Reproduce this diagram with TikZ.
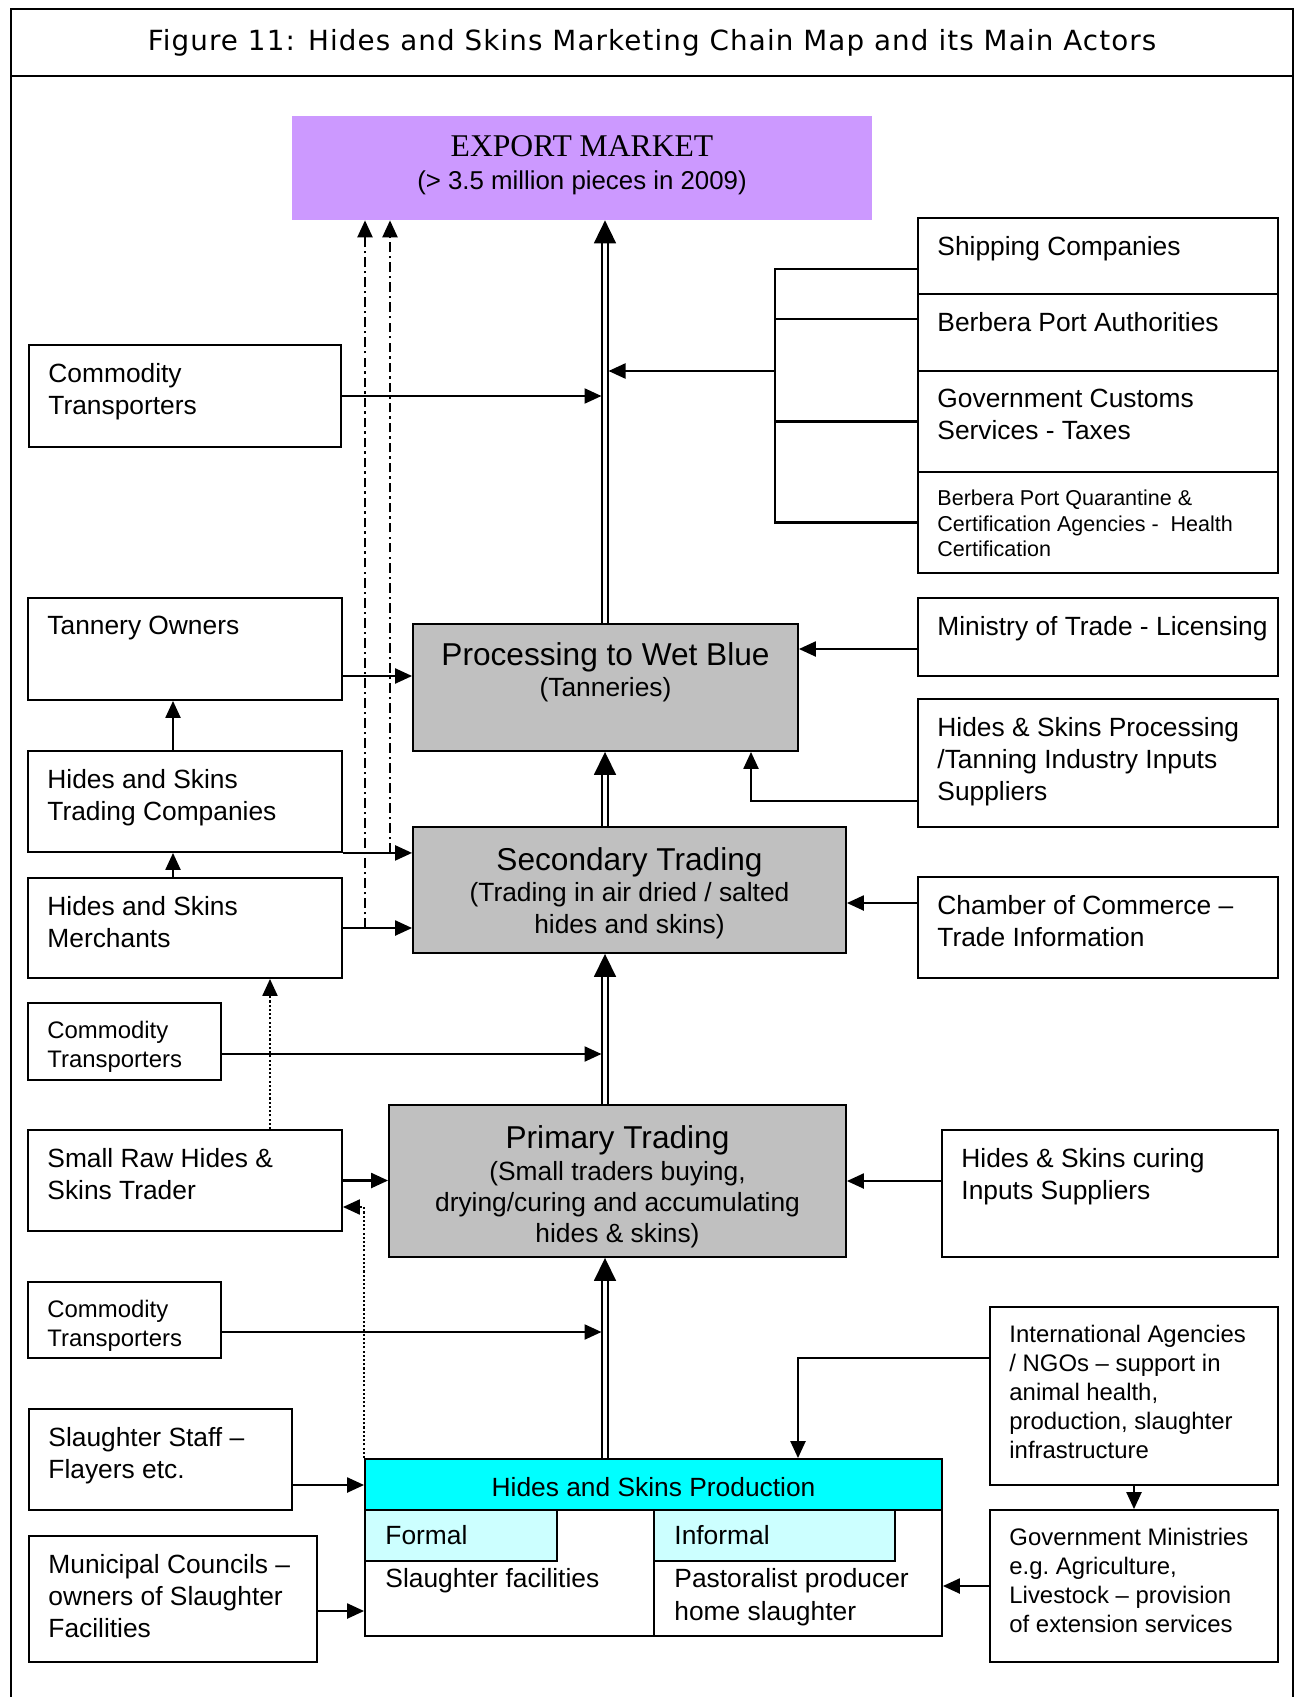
\documentclass[tikz,border=0pt]{standalone}
\usepackage{fontspec}
\setmainfont{Liberation Sans}
\newfontfamily\serifface{Liberation Serif}
\newfontfamily\captionface[LetterSpace=4]{DejaVu Sans}
\usepackage{xcolor}
\definecolor{exportviolet}{HTML}{CC99FF}
\definecolor{stagegray}{HTML}{C0C0C0}
\definecolor{prodcyan}{HTML}{00FFFF}
\definecolor{subcyan}{HTML}{CCFFFF}
\usepackage{tikz}
\usetikzlibrary{positioning, fit, arrows.meta, calc}

\tikzset{
  actor/.style={draw, line width=1.05pt, inner sep=0pt},
  stage/.style={actor, fill=stagegray},
  txt/.style={anchor=north west, inner sep=0pt, align=left, font=\fontsize{15}{18.3}\selectfont},
  note/.style={txt, xshift=0.4cm, yshift=-0.37cm},
  smallnote/.style={note, font=\fontsize{13.6}{16.6}\selectfont},
  tinynote/.style={note, font=\fontsize{12.25}{14.6}\selectfont},
  stagetxt/.style={anchor=center, inner sep=0pt, align=center, font=\fontsize{15}{17.8}\selectfont},
  link/.style={line width=1.3pt, -{Triangle[length=0.34cm, width=0.3cm]}},
  trunk/.style={double, double distance=2.2pt, line width=0.95pt, -{Triangle[length=0.46cm, width=0.44cm]}},
  dashdot/.style={link, line width=1.3pt, dash pattern=on 5.5pt off 2.3pt on 1.3pt off 2.3pt},
  dotlink/.style={link, line width=1.2pt, dash pattern=on 1.2pt off 1.2pt},
}

\begin{document}
\begin{tikzpicture}[x=0.02cm, y=-0.02cm]
  \useasboundingbox (0,0) rectangle (1299,1697);
  % frame and caption
  \draw[line width=0.8pt] (11,1697) -- (11,9) -- (1293,9) -- (1293,1697);
  \draw[line width=1.6pt] (11,76) -- (1293,76);
  \node[font=\captionface\fontsize{15.8}{18}\selectfont] (caption) at (652,43)
    {Figure 11: Hides and Skins Marketing Chain Map and its Main Actors};

  % chain stages
  \node[fill=exportviolet, inner sep=0pt, fit={(292,116) (872,220)},
        label={[stagetxt, yshift=0.06cm, font=\fontsize{14.7}{18.5}\selectfont]center:{{\serifface\fontsize{18}{18.5}\selectfont EXPORT MARKET}\\(> 3.5 million pieces in 2009)}}] (export) {};
  \node[stage, fit={(413,624) (798,751)},
        label={[stagetxt, yshift=0.3cm]center:{{\fontsize{18}{21}\selectfont Processing to Wet Blue}\\(Tanneries)}}] (proc) {};
  \node[stage, fit={(413,827) (846,953)},
        label={[stagetxt, yshift=-0.06cm]center:{{\fontsize{18}{21}\selectfont Secondary Trading}\\(Trading in air dried / salted\\hides and skins)}}] (sec) {};
  \node[stage, fit={(389,1105) (846,1257)},
        label={[stagetxt, yshift=-0.12cm]center:{{\fontsize{18}{21}\selectfont Primary Trading}\\(Small traders buying,\\drying/curing and accumulating\\hides \& skins)}}] (pri) {};
  \node[actor, fit={(365,1459) (942,1636)}] (prod) {};
  \node[actor, fill=prodcyan, fit={(365,1459) (942,1510)},
        label={[stagetxt, yshift=-0.06cm]center:Hides and Skins Production}] (prodhead) {};
  \node[actor, fill=subcyan, fit={(365,1510) (557,1561)},
        label={[txt, anchor=west, xshift=0.42cm]west:Formal}] (formal) {};
  \node[actor, fill=subcyan, fit={(654.5,1510) (895,1561)},
        label={[txt, anchor=west, xshift=0.41cm]west:Informal}] (informal) {};
  \draw[line width=1.05pt] (informal.north west) -- (informal.north west |- prod.south);
  \node[txt] (facility) at ([shift={(21,6.5)}]formal.south west) {Slaughter facilities};
  \node[txt] (pastoral) at ([shift={(20.5,6.5)}]informal.south west) {Pastoralist producer\\home slaughter};

  % actors on the left
  \node[actor, fit={(29,345) (341,447)}, label={[note]north west:{Commodity\\Transporters}}] (haulA) {};
  \node[actor, fit={(28,598) (342,700)}, label={[note]north west:{Tannery Owners}}] (tanner) {};
  \node[actor, fit={(28,751) (342,852)}, label={[note]north west:{Hides and Skins\\Trading Companies}}] (tradeco) {};
  \node[actor, fit={(28,878) (342,978)}, label={[note]north west:{Hides and Skins\\Merchants}}] (merchant) {};
  \node[actor, fit={(28,1003) (221,1080)}, label={[smallnote]north west:{Commodity\\Transporters}}] (haulB) {};
  \node[actor, fit={(28,1130) (342,1231)}, label={[note]north west:{Small Raw Hides \&\\Skins Trader}}] (rawtrader) {};
  \node[actor, fit={(28,1282) (221,1358)}, label={[smallnote]north west:{Commodity\\Transporters}}] (haulC) {};
  \node[actor, fit={(29,1409) (292,1510)}, label={[note]north west:{Slaughter Staff --\\Flayers etc.}}] (flayer) {};
  \node[actor, fit={(29,1536) (317,1662)}, label={[note]north west:{Municipal Councils --\\owners of Slaughter\\Facilities}}] (council) {};

  % actors on the right
  \node[actor, fit={(918,218) (1278,294)}, label={[note]north west:{Shipping Companies}}] (ship) {};
  \node[actor, fit={(918,294) (1278,371)}, label={[note]north west:{Berbera Port Authorities}}] (bpa) {};
  \node[actor, fit={(918,371) (1278,472)}, label={[note]north west:{Government Customs\\Services - Taxes}}] (gcs) {};
  \node[actor, fit={(918,472) (1278,573)}, label={[tinynote]north west:{Berbera Port Quarantine \&\\Certification Agencies -\ \ Health\\Certification}}] (bpq) {};
  \node[actor, fit={(918,598) (1278,676)}, label={[note]north west:{Ministry of Trade - Licensing}}] (ministry) {};
  \node[actor, fit={(918,699) (1278,827)}, label={[note]north west:{Hides \& Skins Processing\\/Tanning Industry Inputs\\Suppliers}}] (hsinputs) {};
  \node[actor, fit={(918,877) (1278,978)}, label={[note]north west:{Chamber of Commerce --\\Trade Information}}] (chamber) {};
  \node[actor, fit={(942,1130) (1278,1257)}, label={[note]north west:{Hides \& Skins curing\\Inputs Suppliers}}] (curing) {};
  \node[actor, fit={(990,1307) (1278,1485)}, label={[smallnote]north west:{International Agencies\\/ NGOs -- support in\\animal health,\\production, slaughter\\infrastructure}}] (agency) {};
  \node[actor, fit={(990,1510) (1278,1662)}, label={[smallnote]north west:{Government Ministries\\e.g.\ Agriculture,\\Livestock -- provision\\of extension services}}] (govmin) {};

  % main chain
  \coordinate (spine) at (605,0);
  \coordinate (spineL) at (601.5,0);
  \coordinate (spineR) at (608.5,0);
  \draw[trunk] (proc.north -| spine) -- (export.south -| spine);
  \draw[trunk] (sec.north -| spine) -- (proc.south -| spine);
  \draw[trunk] (pri.north -| spine) -- (sec.south -| spine);
  \draw[trunk] (prod.north -| spine) -- (pri.south -| spine);

  % port services
  \coordinate (brace) at (775,371);
  \path ([yshift=-0.26cm]ship.west) coordinate (shipin)
        ([yshift=0.27cm]bpa.west) coordinate (bpain);
  \draw[line width=1.3pt] (shipin) -- (shipin -| brace) -- (bpq.west -| brace) -- (bpq.west);
  \draw[line width=1.3pt] (bpain -| brace) -- (bpain);
  \draw[line width=1.3pt] (gcs.west -| brace) -- (gcs.west);
  \draw[link] (brace) -- (brace -| spineR);

  % feeders
  \draw[link] (haulA.east) -- (haulA.east -| spineL);
  \path ([yshift=-0.54cm]tanner.east) coordinate (tannerout);
  \draw[link] (tannerout) -- (tannerout -| proc.west);
  \draw[link] ([xshift=-0.24cm]tradeco.north) -- ([xshift=-0.24cm]tanner.south);
  \draw[link] ([xshift=-0.24cm]merchant.north) -- ([xshift=-0.24cm]tradeco.south);
  \draw[link] (tradeco.south east) -- (tradeco.south east -| sec.west);
  \draw[link] (merchant.east) -- (merchant.east -| sec.west);
  \coordinate (flowA) at (365,0);
  \coordinate (flowB) at (390,0);
  \draw[dashdot] (merchant.east -| flowA) -- (export.south -| flowA);
  \draw[dashdot] (tradeco.south east -| flowB) -- (export.south -| flowB);
  \path ([yshift=-0.24cm]ministry.west) coordinate (minout);
  \draw[link] (minout) -- (minout -| proc.east);
  \path ([yshift=-0.76cm]hsinputs.west) coordinate (inpout);
  \draw[link] (inpout) -| (proc.south -| 751,0);
  \path ([yshift=0.49cm]chamber.west) coordinate (chamout);
  \draw[link] (chamout) -- (chamout -| sec.east);
  \path ([yshift=-0.25cm]haulB.east) coordinate (haulBout);
  \draw[link] (haulBout) -- (haulBout -| spineL);
  \draw[link] (rawtrader.east) -- (rawtrader.east -| pri.west);
  \draw[dotlink] ([xshift=1.7cm]rawtrader.north) -- ([xshift=1.7cm]merchant.south);
  \path ([yshift=-0.53cm]rawtrader.east) coordinate (rawin);
  \draw[dotlink] (prod.north west) |- (rawin);
  \path ([yshift=0.25cm]curing.west) coordinate (curout);
  \draw[link] (curout) -- (curout -| pri.east);
  \path ([yshift=-0.24cm]haulC.east) coordinate (haulCout);
  \draw[link] (haulCout) -- (haulCout -| spineL);
  \path ([yshift=0.76cm]agency.west) coordinate (agout);
  \draw[link] (agout) -| (prod.north -| 798,0);
  \draw[link] (agency.south) -- (govmin.north);
  \path ([yshift=-0.51cm]flayer.east) coordinate (flayout);
  \draw[link] (flayout) -- (flayout -| prod.west);
  \path ([yshift=-0.24cm]council.east) coordinate (councout);
  \draw[link] (councout) -- (councout -| prod.west);
  \draw[link] (govmin.west) -- (govmin.west -| prod.east);
\end{tikzpicture}
\end{document}
